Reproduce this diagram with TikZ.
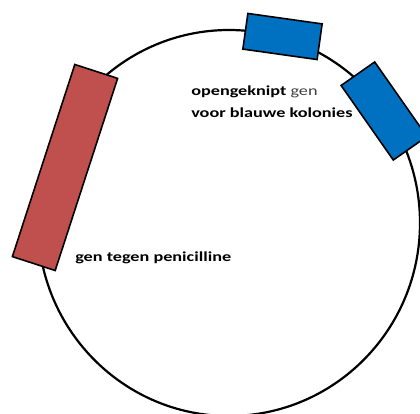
\documentclass[tikz,border=0pt]{standalone}
\usepackage{fontspec}
\setmainfont{Carlito}
\definecolor{genred}{HTML}{C0504D}
\definecolor{genblue}{HTML}{0070C0}
\definecolor{gengray}{HTML}{404040}
\begin{document}
\begin{tikzpicture}[x=1pt,y=-1pt,
  genebox/.style={draw=black,line width=1.6pt,inner sep=0pt,rectangle},
  lbl/.style={inner sep=0pt,anchor=base west,font=\fontsize{13.8}{15}\selectfont\bfseries,xscale=1.32}]
\useasboundingbox (0,0) rectangle (420,414);
\draw[line width=2.2pt] (229,223) ellipse [x radius=191pt, y radius=193pt];
\node[genebox,fill=genred,minimum width=45pt,minimum height=202pt,rotate=-18] (red) at (65,167.5) {};
\node[genebox,fill=genblue,minimum width=75pt,minimum height=36pt,rotate=-8] (blueA) at (282.5,36.5) {};
\node[genebox,fill=genblue,minimum width=41pt,minimum height=91pt,rotate=35] (blueB) at (384,111) {};
\node[lbl] (l1) at (191,96) {opengeknipt {\mdseries\color{gengray} gen}};
\node[lbl] (l2) at (191,117.5) {voor blauwe kolonies};
\node[lbl] (l3) at (75,261) {gen tegen penicilline};
\end{tikzpicture}
\end{document}
